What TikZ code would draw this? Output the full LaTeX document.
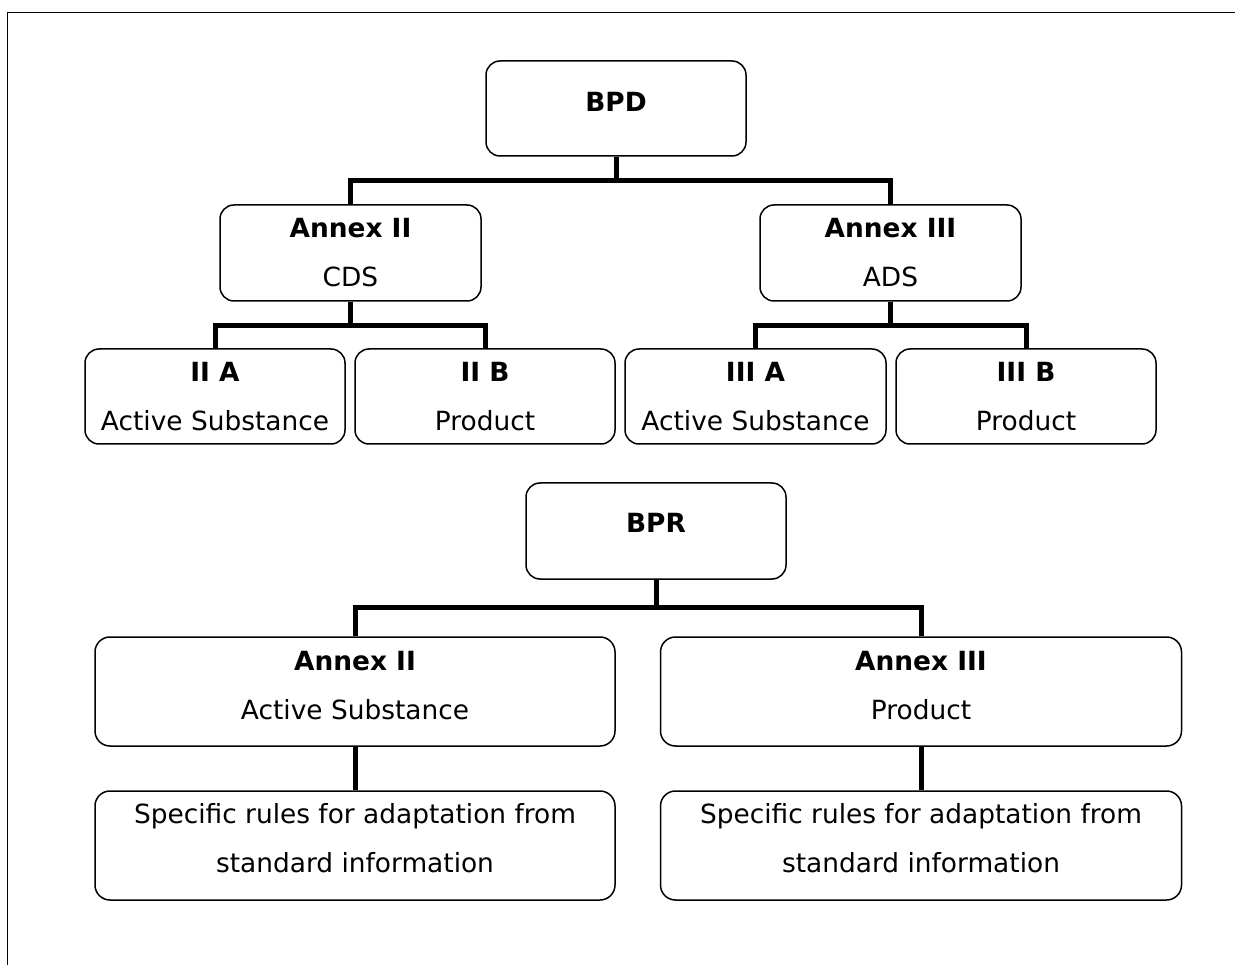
\documentclass[tikz,border=0pt]{standalone}
\usepackage{fontspec}
\setmainfont{DejaVu Sans}
\begin{document}
\begin{tikzpicture}[x=1pt,y=-1pt,
  box/.style={draw, line width=1.5pt, rounded corners=14pt, minimum width=#1, minimum height=95pt, inner sep=0pt},
  box/.default=260pt,
  bigbox/.style={draw, line width=1.5pt, rounded corners=15pt, minimum width=520pt, minimum height=109pt, inner sep=0pt},
  txt/.style={align=center, inner sep=0pt, font=\fontsize{26.4}{49}\selectfont},
  conn/.style={line width=5pt}]
\useasboundingbox (0,0) rectangle (1235,965);
\clip (0,0) rectangle (1235,965);
% frame
\draw[line width=1.5pt] (1240,12.5) -- (7.5,12.5) -- (7.5,970);

% ---- BPD tree ----
\node[box] (bpd) at (616,108.5) {};
\node[txt, yshift=7pt] (bpdt) at (bpd.center) {\textbf{BPD}};

\node[box=261pt, minimum height=96pt] (a2) at (350.5,253) {};
\node[txt] (a2t) at (a2.center) {\textbf{Annex II}\\CDS};
\node[box=261pt, minimum height=96pt] (a3) at (890.5,253) {};
\node[txt] (a3t) at (a3.center) {\textbf{Annex III}\\ADS};

\node[box] (iia) at (215,396.5) {};
\node[txt] (iiat) at (iia.center) {\textbf{II A}\\Active Substance};
\node[box] (iib) at (485,396.5) {};
\node[txt] (iibt) at (iib.center) {\textbf{II B}\\Product};
\node[box=261pt] (iiia) at (755.5,396.5) {};
\node[txt] (iiiat) at (iiia.center) {\textbf{III A}\\Active Substance};
\node[box] (iiib) at (1026,396.5) {};
\node[txt] (iiibt) at (iiib.center) {\textbf{III B}\\Product};

\draw[conn] (bpd.south) -- ++(0,24) -| (a2.north);
\draw[conn] (bpd.south) -- ++(0,24) -| (a3.north);
\draw[conn] (a2.south) -- ++(0,24) -| (iia.north);
\draw[conn] (a2.south) -- ++(0,24) -| (iib.north);
\draw[conn] (a3.south) -- ++(0,24) -| (iiia.north);
\draw[conn] (a3.south) -- ++(0,24) -| (iiib.north);

% ---- BPR tree ----
\node[box=260pt, minimum height=96pt] (bpr) at (656,531) {};
\node[txt, yshift=8pt] (bprt) at (bpr.center) {\textbf{BPR}};

\node[bigbox] (b2) at (355,691.5) {};
\node[txt, yshift=6pt] (b2t) at (b2.center) {\textbf{Annex II}\\Active Substance};
\node[bigbox, minimum width=521pt] (b3) at (921,691.5) {};
\node[txt, yshift=6pt] (b3t) at (b3.center) {\textbf{Annex III}\\Product};

\node[bigbox] (s2) at (355,845.5) {};
\node[txt, yshift=7pt] (s2t) at (s2.center) {Specific rules for adaptation from\\standard information};
\node[bigbox, minimum width=521pt] (s3) at (921,845.5) {};
\node[txt, yshift=7pt] (s3t) at (s3.center) {Specific rules for adaptation from\\standard information};

\draw[conn] (bpr.south) -- ++(0,28) -| (b2.north);
\draw[conn] (bpr.south) -- ++(0,28) -| (b3.north);
\draw[conn] (b2.south) -- (s2.north);
\draw[conn] (b3.south) -- (s3.north);
\end{tikzpicture}
\end{document}
